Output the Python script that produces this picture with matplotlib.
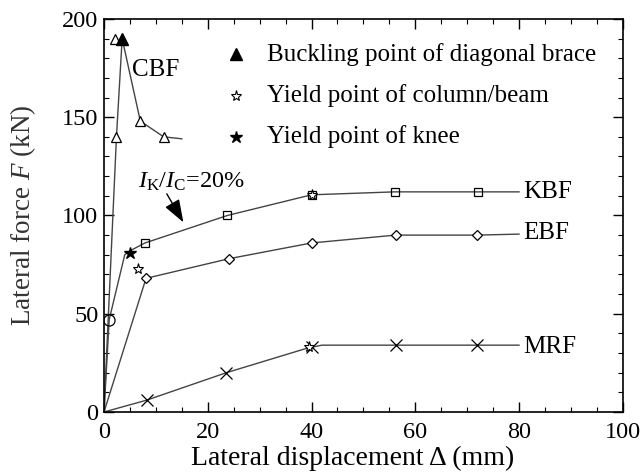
import matplotlib
matplotlib.use("Agg")
import matplotlib.pyplot as plt
from matplotlib.ticker import MultipleLocator

plt.rcParams['font.family'] = ['Liberation Serif', 'DejaVu Serif']
plt.rcParams['mathtext.fontset'] = 'custom'
plt.rcParams['mathtext.rm'] = 'Liberation Serif'
plt.rcParams['mathtext.it'] = 'Liberation Serif:italic'

# ---- data ----
cbf_x = [0, 2.4, 3.5, 7.0, 11.5, 15.0]
cbf_y = [0, 140, 190, 148, 140, 139]
cbf_mx = [2.4, 2.1, 7.0, 11.5]
cbf_my = [140, 190, 148, 140]

kbf_x = [0, 1.0, 4.0, 5.0, 7.9, 23.8, 40.0, 56.0, 72.0, 80.0]
kbf_y = [0, 47, 80, 82, 86, 100, 110.5, 112, 112, 112]
kbf_mx = [7.9, 23.8, 40.0, 56.0, 72.0]
kbf_my = [86, 100, 110.5, 112, 112]
kbf_circle_x = [1.0]
kbf_circle_y = [47]

ebf_x = [0, 8.1, 24.1, 40.0, 56.2, 71.9, 80.0]
ebf_y = [0, 68, 78, 86, 90, 90, 90.5]
ebf_mx = [8.1, 24.1, 40.0, 56.2, 71.9]
ebf_my = [68, 78, 86, 90, 90]

mrf_x = [0, 8.2, 23.6, 39.2, 42.0, 56.2, 71.9, 80.0]
mrf_y = [0, 6, 20, 32.5, 34, 34, 34, 34]
mrf_mx = [8.2, 23.6, 40.0, 56.2, 71.9]
mrf_my = [6, 20, 33, 34, 34]

buckle_x = [3.5]
buckle_y = [190]
col_yield_x = [6.6, 40.0, 39.5]
col_yield_y = [73, 110.5, 33]
knee_yield_x = [5.0]
knee_yield_y = [81]

fig = plt.figure(figsize=(6.44, 4.73), dpi=100)
ax = fig.add_axes([0.1615, 0.129, 0.8055, 0.831])

lc = '#444444'
lw = 1.0
ms = 7
ax.plot(cbf_x, cbf_y, color=lc, lw=lw)
ax.plot(cbf_mx, cbf_my, ls='none', marker='^', ms=ms, mfc='white', mec='black', mew=0.9)
ax.plot(kbf_x, kbf_y, color=lc, lw=lw)
ax.plot(kbf_mx, kbf_my, ls='none', marker='s', ms=ms - 1, mfc='none', mec='black', mew=0.9)
ax.plot(kbf_circle_x, kbf_circle_y, ls='none', marker='o', ms=ms + 1, mfc='none', mec='black', mew=0.9)
ax.plot(ebf_x, ebf_y, color=lc, lw=lw)
ax.plot(ebf_mx, ebf_my, ls='none', marker='D', ms=ms - 2, mfc='white', mec='black', mew=0.9)
ax.plot(mrf_x, mrf_y, color=lc, lw=lw)
ax.plot(mrf_mx, mrf_my, ls='none', marker='x', ms=ms + 1, mec='black', mew=0.9)

ax.plot(buckle_x, buckle_y, ls='none', marker='^', ms=ms + 1, color='black')
ax.plot(col_yield_x, col_yield_y, ls='none', marker='*', ms=ms + 1, mfc='white', mec='black', mew=0.8)
ax.plot(knee_yield_x, knee_yield_y, ls='none', marker='*', ms=ms + 2, color='black')

# legend entries
fs = 18
leg_x = 25.5
ax.plot([leg_x], [182], marker='^', ms=ms + 1, color='black', ls='none')
ax.plot([leg_x], [161], marker='*', ms=ms + 1, mfc='white', mec='black', mew=0.8, ls='none')
ax.plot([leg_x], [140], marker='*', ms=ms + 2, color='black', ls='none')
ax.text(31.5, 182, 'Buckling point of diagonal brace', fontsize=fs, va='center')
ax.text(31.5, 161, 'Yield point of column/beam', fontsize=fs, va='center')
ax.text(31.5, 140, 'Yield point of knee', fontsize=fs, va='center')

# curve labels
ax.text(5.4, 174, 'CBF', fontsize=fs, va='center')
ax.text(80.8, 112, 'KBF', fontsize=fs, va='center')
ax.text(80.8, 91, 'EBF', fontsize=fs, va='center')
ax.text(80.8, 33, 'MRF', fontsize=fs, va='center')

ax.text(6.6, 117, r'$I_{\mathrm{K}}/I_{\mathrm{C}}$=20%', fontsize=17.5, va='center')
ax.annotate('', xy=(15.3, 96.5), xytext=(12.1, 111),
            arrowprops=dict(arrowstyle='-|>,head_length=1.4,head_width=0.5',
                            color='black', lw=1.0, shrinkA=0, shrinkB=0))

ax.set_xlim(0, 100)
ax.set_ylim(0, 200)
ax.xaxis.set_major_locator(MultipleLocator(20))
ax.xaxis.set_minor_locator(MultipleLocator(5))
ax.yaxis.set_major_locator(MultipleLocator(50))
ax.yaxis.set_minor_locator(MultipleLocator(10))
ax.tick_params(which='both', direction='in', top=True, right=True, labelsize=17.5)
ax.tick_params(which='major', length=7, width=1.0)
ax.tick_params(axis='x', which='major', pad=7)
ax.tick_params(axis='y', which='major', pad=4)
ax.tick_params(which='minor', length=3.5, width=0.8)
for s in ax.spines.values():
    s.set_linewidth(1.2)

ax.set_xlabel('Lateral displacement Δ (mm)', fontsize=20)
ax.xaxis.set_label_coords(0.479, -0.087)
ax.set_ylabel(r'Lateral force $F$ (kN)', fontsize=19.5, color='#333333')
ax.yaxis.set_label_coords(-0.127, 0.5)

fig.savefig('out.png', dpi=100)
